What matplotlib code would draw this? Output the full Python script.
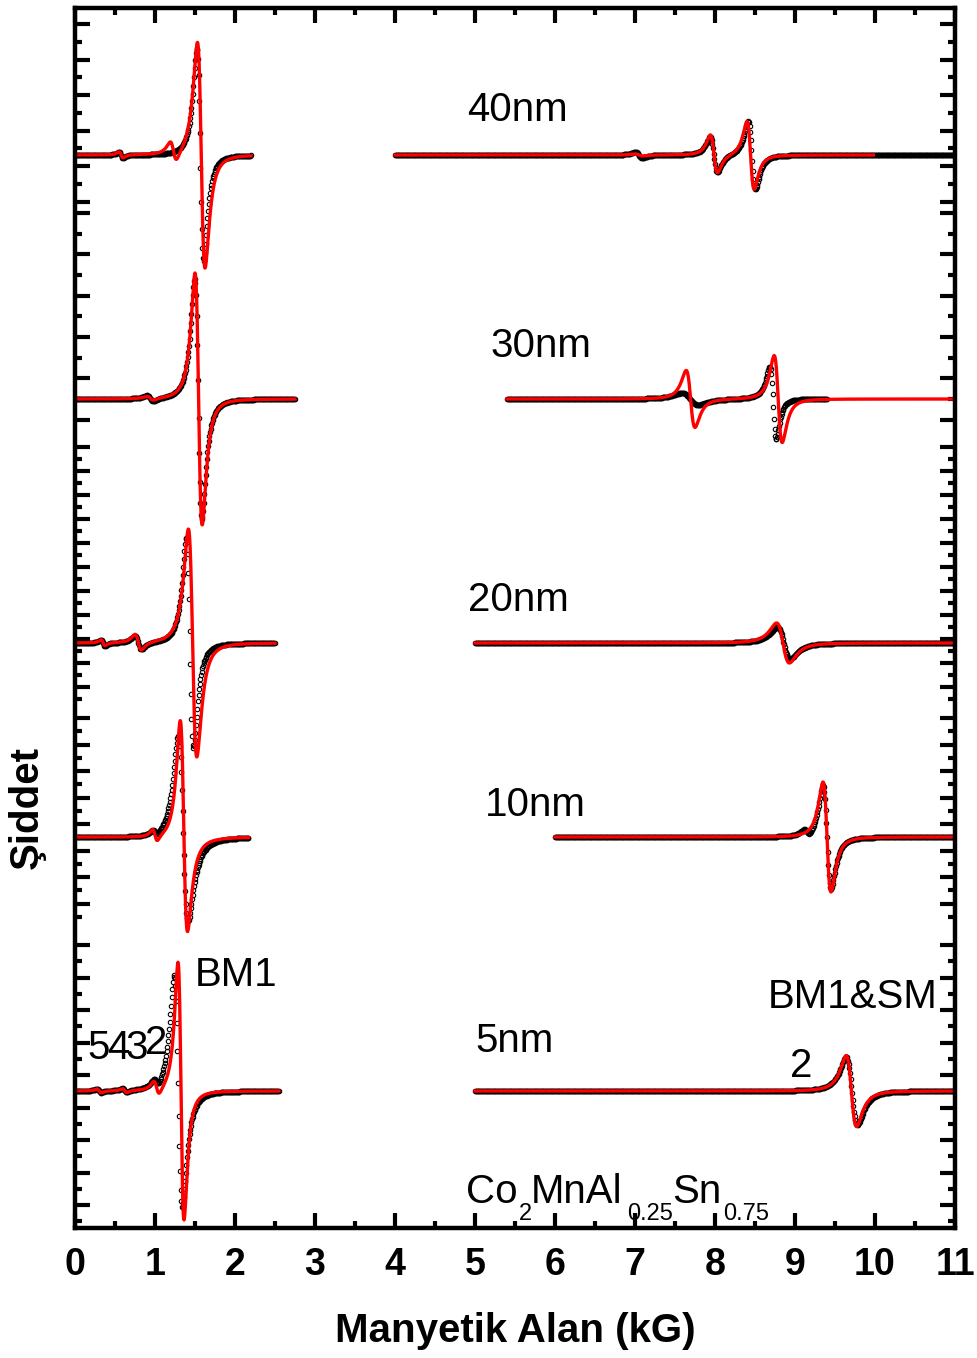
import numpy as np
import matplotlib.pyplot as plt
from matplotlib.ticker import MultipleLocator, FixedLocator

plt.rcParams['font.family'] = ['Liberation Sans', 'DejaVu Sans']

# spectra, top to bottom
labels = ['40nm', '30nm', '20nm', '10nm', '5nm']
offsets = [1073, 829, 585, 391, 137]
left_range = [(0.0, 2.2), (0.0, 2.75), (0.0, 2.5), (0.0, 2.17), (0.0, 2.55)]
right_data_range = [(4.0, 11.0), (5.4, 9.4), (5.0, 11.0), (6.0, 11.0), (5.0, 11.0)]
right_fit_range = [(4.0, 9.98), (5.4, 11.0), (5.0, 11.0), (6.0, 11.0), (5.0, 11.0)]

# resonance lines: (H0 [kG], dHpp [kG], amplitude, asymmetry)
data_lines = [
    [(0.575, 0.05, 3, 0), (1.565, 0.085, 106, 0), (7.05, 0.09, 3, 0),
     (7.985, 0.09, 18, 0), (8.46, 0.09, 34, 0)],
    [(0.94, 0.08, 3, 0), (1.54, 0.09, 120, 0), (7.69, 0.2, 6, 0),
     (8.73, 0.08, 36, -0.3)],
    [(0.35, 0.05, 3, 0), (0.79, 0.08, 7, 0), (1.435, 0.09, 105, 0),
     (8.86, 0.16, 16, 0)],
    [(1.0, 0.06, 3, 0), (1.345, 0.12, 92, 0.25), (9.15, 0.08, 4, 0),
     (9.4, 0.1, 52, 0)],
    [(0.3, 0.05, 2, 0), (0.62, 0.05, 2, 0), (1.02, 0.07, 5, 0),
     (1.29, 0.1, 116, 0), (9.71, 0.14, 34, 0)],
]
fit_lines = [
    [(0.575, 0.05, 3, 0), (1.23, 0.08, 10, 0), (1.578, 0.095, 113, 0),
     (7.05, 0.09, 1, 0), (7.985, 0.09, 19, 0.1), (8.445, 0.09, 34, 0)],
    [(0.94, 0.08, 2, 0), (1.545, 0.09, 126, 0), (7.695, 0.11, 28.5, 0),
     (8.79, 0.1, 43.5, 0)],
    [(0.35, 0.05, 3, 0), (0.79, 0.08, 8, 0), (1.47, 0.105, 114, 0),
     (8.85, 0.16, 20, 0)],
    [(1.0, 0.06, 6, 0), (1.355, 0.09, 104, 0.28), (9.4, 0.1, 55, 0)],
    [(0.3, 0.05, 2, 0), (0.62, 0.05, 2, 0), (1.02, 0.07, 7, 0),
     (1.325, 0.075, 129, 0), (9.705, 0.13, 35.5, 0)],
]

# text annotations (x in kG, y in plot units)
label_pos = [(4.9, 1118), (5.19, 882), (4.91, 628), (5.125, 423), (5.01, 187)]
mode_texts = ['5', '4', '3', '2', 'BM1', 'BM1&SM', '2']
mode_pos = [(0.16, 180), (0.40, 180), (0.625, 180), (0.875, 185),
            (1.5, 253), (8.66, 231), (8.94, 162)]
# sample formula pieces: (text, x, baseline y, is subscript)
formula = [('Co', 4.89, 25, False), ('2', 5.55, 8, True), ('MnAl', 5.70, 25, False),
           ('0.25', 6.90, 8, True), ('Sn', 7.47, 25, False), ('0.75', 8.10, 8, True)]


def derivative_line(h, lines):
    y = np.zeros_like(h)
    for h0, dhpp, amp, mix in lines:
        u = (h - h0) / (dhpp * np.sqrt(3) / 2)
        y += amp * (-u / (1 + u**2)**2 / 0.3248 + mix * (1 - u**2) / (1 + u**2)**2)
    return y


fig = plt.figure(figsize=(9.78, 13.58), dpi=100)
ax = fig.add_axes([75 / 978, 130 / 1358, 880 / 978, 1220 / 1358])

for i in range(len(labels)):
    for lo, hi in [left_range[i], right_data_range[i]]:
        h = np.arange(lo, hi + 1e-9, 0.008)
        ax.plot(h, offsets[i] + derivative_line(h, data_lines[i]), 'o',
                ms=3.2, mfc='none', mec='black', mew=0.8)
    for lo, hi in [left_range[i], right_fit_range[i]]:
        h = np.arange(lo, hi + 1e-9, 0.004)
        ax.plot(h, offsets[i] + derivative_line(h, fit_lines[i]),
                color='red', lw=2.4)
    ax.text(label_pos[i][0], label_pos[i][1], labels[i], fontsize=29,
            ha='left', va='center')

for t, (x, y) in zip(mode_texts, mode_pos):
    ax.text(x, y, t, fontsize=29, ha='left', va='center')

for t, x, y, sub in formula:
    ax.text(x, y, t, fontsize=17 if sub else 29, ha='left', va='baseline')

ax.set_xlim(0, 11)
ax.set_ylim(0, 1220)

# y ticks: one band per stacked layer (top px, bottom px, first major px, step px)
tick_bands = [(8, 212, 24, 35.5), (212, 430, 213, 41.3), (430, 705, 447, 24),
              (705, 930, 718, 26.5), (930, 1228, 945, 32.5)]
y_major, y_minor = [], []
for top, bottom, first, step in tick_bands:
    p = np.arange(first, bottom, step)
    y_major += list(1228 - p)
    y_minor += list(1228 - (p + step / 2)[p + step / 2 < bottom])
ax.yaxis.set_major_locator(FixedLocator(y_major))
ax.yaxis.set_minor_locator(FixedLocator(y_minor))
ax.xaxis.set_major_locator(MultipleLocator(1))
ax.xaxis.set_minor_locator(MultipleLocator(0.5))

ax.tick_params(which='both', direction='in', top=True, right=True,
               labelleft=False, width=3)
ax.tick_params(which='major', length=11)
ax.tick_params(which='minor', length=5)
ax.tick_params(axis='x', pad=14)
for lab in ax.get_xticklabels():
    lab.set_fontweight('bold')
    lab.set_fontsize(27)
    lab.set_family(['Liberation Sans Narrow', 'Liberation Sans'])
for s in ax.spines.values():
    s.set_linewidth(3.2)

ax.set_xlabel('Manyetik Alan (kG)', fontsize=29, fontweight='bold')
ax.xaxis.set_label_coords(0.5, -0.069)
ax.set_ylabel('Şiddet', fontsize=29, fontweight='bold')
ax.yaxis.set_label_coords(-0.033, 0.345)

fig.savefig('out.png', dpi=100)
